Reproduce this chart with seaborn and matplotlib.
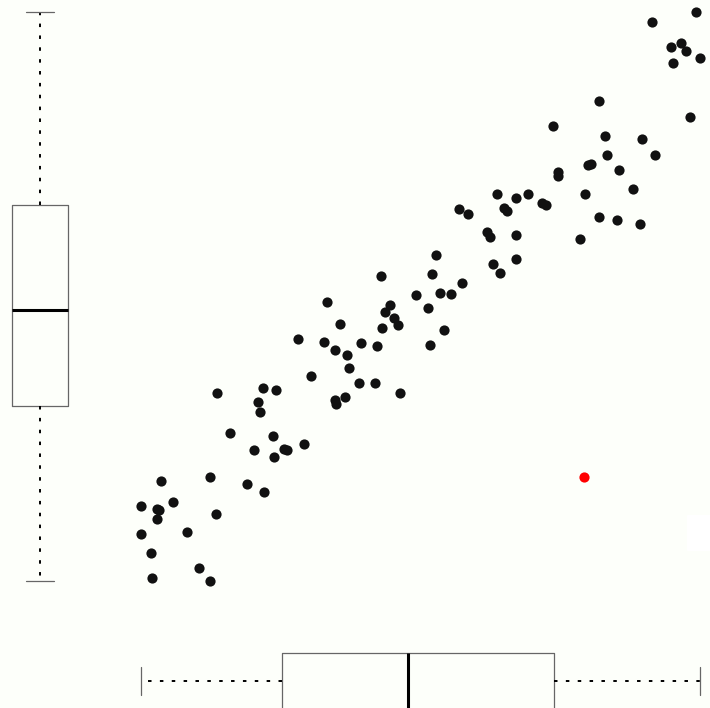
import matplotlib
matplotlib.use("Agg")
import matplotlib.pyplot as plt
from matplotlib.patches import Rectangle
import seaborn as sns

# Paired measurements (arbitrary units)
x_vals = [596, 552, 571, 581, 586, 573, 600, 590, 499, 453,
          505, 542, 507, 555, 488, 491, 519, 458, 458, 533,
          485, 428, 416, 397, 442, 446, 499, 517, 540, 416,
          480, 416, 404, 407, 359, 368, 387, 390, 393, 400,
          336, 332, 362, 281, 316, 340, 351, 328, 227, 290,
          285, 294, 298, 282, 344, 240, 330, 224, 235, 247,
          261, 277, 249, 259, 275, 300, 198, 211, 163, 176,
          117, 158, 160, 130, 173, 154, 184, 187, 204, 174,
          110, 61, 147, 164, 41, 57, 59, 73, 57, 116,
          41, 87, 51, 99, 52, 110, 235, 245, 236]
y_vals = [588, 578, 553, 557, 549, 537, 542, 483, 499, 474,
          464, 461, 445, 445, 435, 436, 430, 428, 424, 411,
          406, 406, 402, 406, 397, 395, 383, 380, 376, 365,
          361, 341, 392, 389, 391, 386, 368, 363, 336, 327,
          345, 326, 317, 324, 305, 307, 306, 292, 298, 295,
          288, 282, 275, 272, 270, 276, 255, 258, 250, 245,
          257, 254, 232, 217, 217, 207, 261, 224, 212, 210,
          207, 198, 188, 167, 164, 150, 151, 150, 156, 143,
          123, 119, 116, 108, 94, 91, 90, 98, 81, 86,
          66, 68, 47, 32, 22, 19, 200, 203, 196]

# Highlighted observation
flag_x = [484]
flag_y = [123]

# Marginal summaries use every observation, the highlighted one included
all_x = x_vals + flag_x
all_y = y_vals + flag_y

BG = "#fdfffa"
sns.set_style("white")

W, H = 710, 708
fig = plt.figure(figsize=(W / 100, H / 100), dpi=100, facecolor=BG)


def add_ax(x0, y0, w, h):
    """Axes from a pixel rectangle measured from the top-left corner."""
    return fig.add_axes([x0 / W, 1 - (y0 + h) / H, w / W, h / H])


ax_main = add_ax(100, 0, 610, 600)
ax_left = add_ax(0, 0, 80, 600)
ax_bot = add_ax(100, 600, 610, 108)

fig.patches.append(Rectangle((687 / W, 1 - 550 / H), 23 / W, 35 / H,
                             transform=fig.transFigure, color="white",
                             zorder=0))

# Scatter
sns.scatterplot(x=x_vals, y=y_vals, ax=ax_main, color="#111111", s=54,
                linewidth=0, zorder=3)
sns.scatterplot(x=flag_x, y=flag_y, ax=ax_main, color="#ff0000", s=54,
                linewidth=0, zorder=4)
ax_main.set_xlim(0, 610)
ax_main.set_ylim(0, 600)

box_kw = dict(
    width=0.7,
    whis=(0, 100),
    fill=False,
    color="#666666",
    linewidth=0.9,
    showfliers=False,
    medianprops=dict(color="black", linewidth=2.2),
    whiskerprops=dict(color="black", linewidth=1.4, linestyle=(0, (1.8, 4.3))),
    capprops=dict(color="#666666", linewidth=0.9),
    boxprops=dict(color="#666666", linewidth=0.9),
)

# Marginal box of y on the left
sns.boxplot(y=all_y, ax=ax_left, **box_kw)
ax_left.set_xlim(-0.5, 0.5)
ax_left.set_ylim(0, 600)

# Marginal box of x along the bottom
sns.boxplot(x=all_x, ax=ax_bot, **box_kw)
ax_bot.set_xlim(0, 610)
ax_bot.set_ylim(-0.3375, 1.0125)

for ax in (ax_main, ax_left, ax_bot):
    ax.set_facecolor("none")
    ax.set_axis_off()

fig.savefig("out.png", dpi=100, facecolor=BG)
